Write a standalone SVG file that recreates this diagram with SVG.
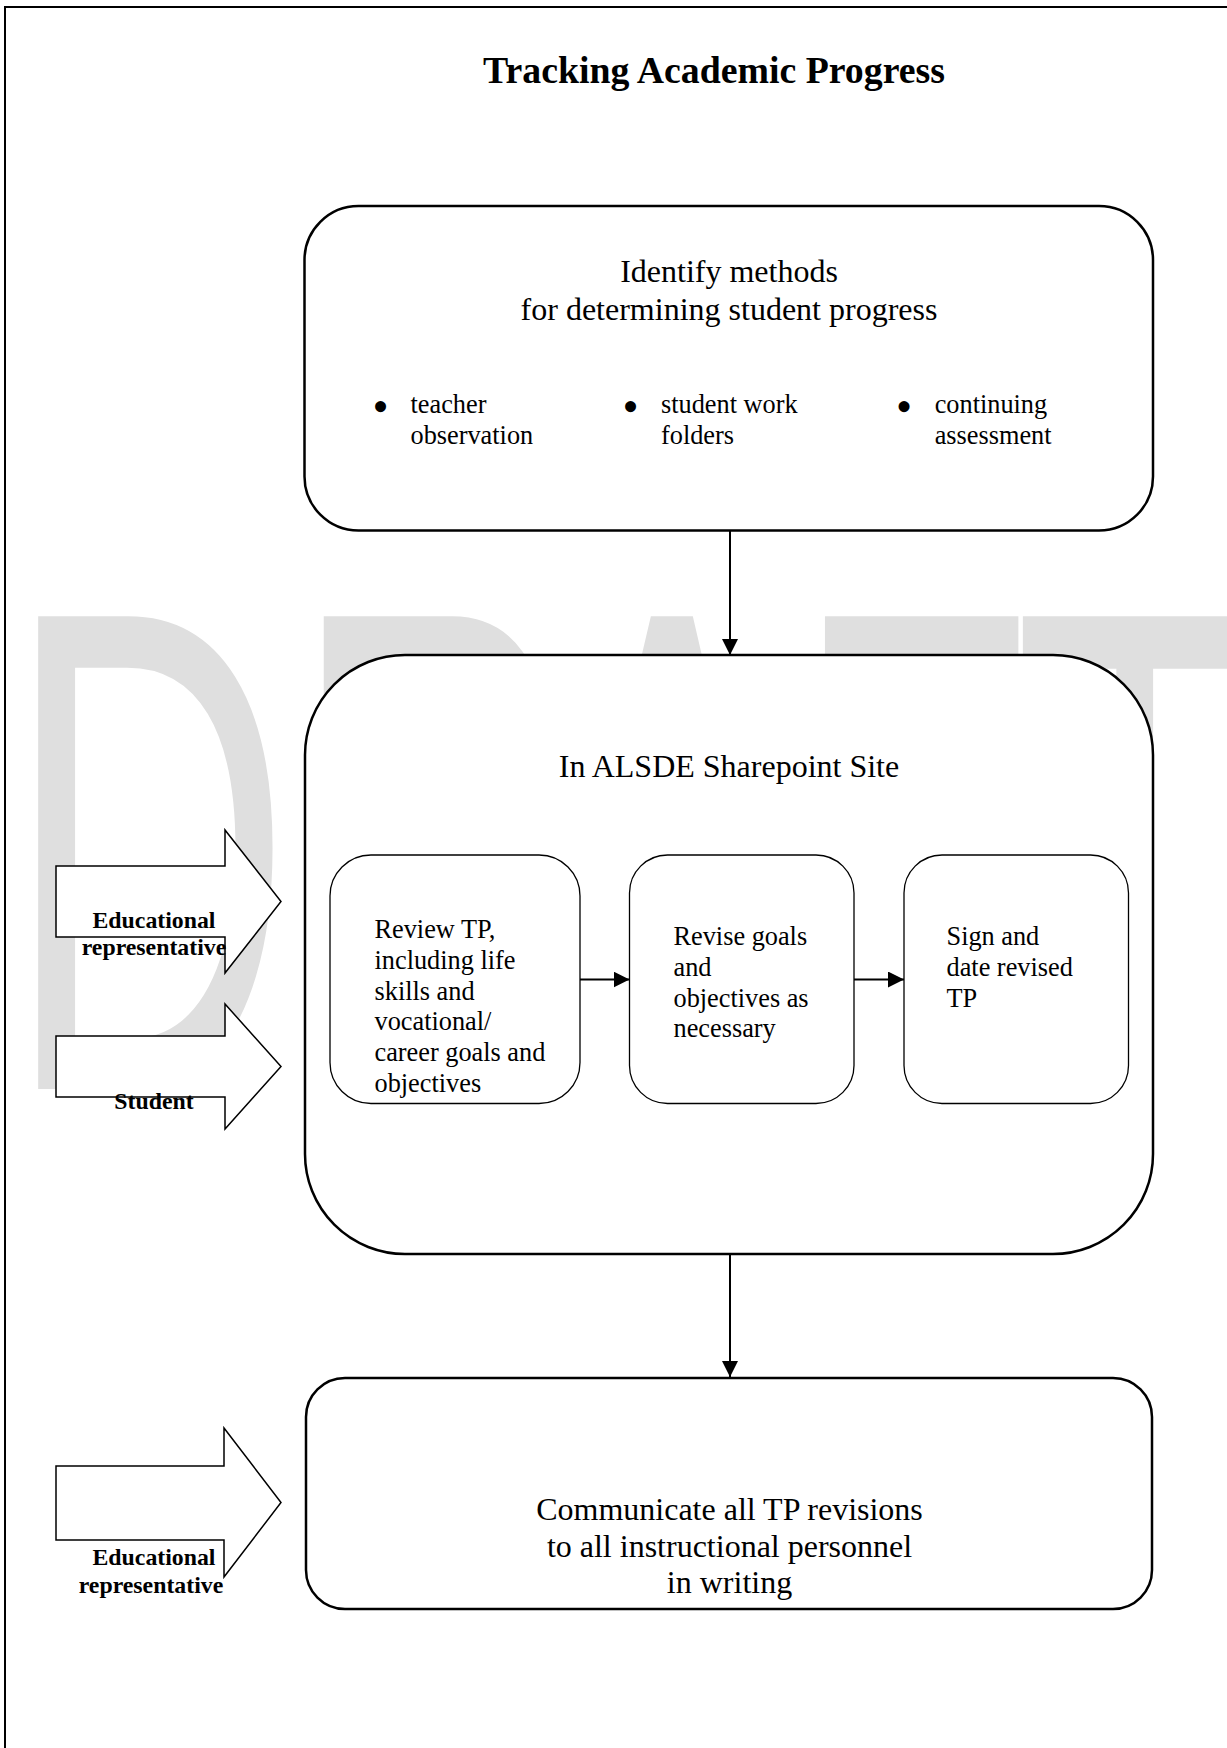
<svg xmlns="http://www.w3.org/2000/svg" width="1227" height="1748" viewBox="0 0 1227 1748">
<defs>
<style>
.t{font-family:"Liberation Serif","Times New Roman",serif;fill:#000}
.title{font-weight:bold;font-size:37.8px;text-anchor:middle}
.h{font-size:32px;text-anchor:middle}
.h2{font-size:32px;text-anchor:middle}
.b{font-size:26.3px}
.bl{font-size:26.3px}
.bul{font-size:46px;text-anchor:middle}
.c3{font-size:32px;text-anchor:middle}
.lbl{font-weight:bold;font-size:23.8px;text-anchor:middle}
.big{fill:#fff;stroke:#000;stroke-width:2.5}
.small{fill:#fff;stroke:#000;stroke-width:1.3}
.blk{fill:#fff;stroke:#000;stroke-width:1.5;stroke-linejoin:miter}
.con{stroke:#000;stroke-width:2;fill:none}
.wm{font-family:"Liberation Sans",Arial,sans-serif;font-size:687px;fill:#dfdfdf}
</style>
<marker id="ah" markerUnits="userSpaceOnUse" markerWidth="16" markerHeight="16" refX="16" refY="8" orient="auto">
<path d="M0,0 L16,8 L0,16 Z" fill="#000"/>
</marker>
</defs>
<rect x="0" y="0" width="1227" height="1748" fill="#fff"/>
<g id="watermark">
<text class="wm" x="9.9 505.7 935.8 1375.9 1760.4" y="1089" transform="scale(0.576,1)">DRAFT</text>
</g>
<rect id="page-border" x="5" y="7" width="1300" height="1800" fill="none" stroke="#000" stroke-width="2"/>
<text class="t title" x="714" y="83">Tracking Academic Progress</text>

<g id="node-identify">
<rect class="big" x="304.5" y="206" width="848.5" height="324.5" rx="54" ry="54"/>
<text class="t h" x="729" y="282">Identify methods</text>
<text class="t h" x="729" y="319.5">for determining student progress</text>
<text class="t bul" x="380.5" y="422">•</text>
<text class="t bl" x="410.5" y="413">teacher</text>
<text class="t bl" x="410.5" y="444">observation</text>
<text class="t bul" x="630.5" y="422">•</text>
<text class="t bl" x="661" y="413">student work</text>
<text class="t bl" x="661" y="444">folders</text>
<text class="t bul" x="904" y="422">•</text>
<text class="t bl" x="934.7" y="413">continuing</text>
<text class="t bl" x="934.7" y="444">assessment</text>
</g>

<g id="node-sharepoint">
<rect class="big" x="305" y="655" width="848" height="599" rx="100" ry="100"/>
<text class="t h2" x="729" y="777">In ALSDE Sharepoint Site</text>
</g>

<g id="node-review">
<rect class="small" x="330" y="855" width="250" height="248.5" rx="41" ry="41"/>
<text class="t b" x="374.5" y="938">Review TP,</text>
<text class="t b" x="374.5" y="968.8">including life</text>
<text class="t b" x="374.5" y="999.6">skills and</text>
<text class="t b" x="374.5" y="1030.4">vocational/</text>
<text class="t b" x="374.5" y="1061.2">career goals and</text>
<text class="t b" x="374.5" y="1092">objectives</text>
</g>

<g id="node-revise">
<rect class="small" x="629.5" y="855" width="224.5" height="248.5" rx="38" ry="38"/>
<text class="t b" x="673.5" y="945">Revise goals</text>
<text class="t b" x="673.5" y="975.8">and</text>
<text class="t b" x="673.5" y="1006.6">objectives as</text>
<text class="t b" x="673.5" y="1037.4">necessary</text>
</g>

<g id="node-sign">
<rect class="small" x="904" y="855" width="224.5" height="248.5" rx="38" ry="38"/>
<text class="t b" x="946.5" y="945">Sign and</text>
<text class="t b" x="946.5" y="975.8">date revised</text>
<text class="t b" x="946.5" y="1006.6">TP</text>
</g>

<g id="node-communicate">
<rect class="big" x="306" y="1378" width="846" height="231" rx="39" ry="39"/>
<text class="t c3" x="729.5" y="1520">Communicate all TP revisions</text>
<text class="t c3" x="729.5" y="1557">to all instructional personnel</text>
<text class="t c3" x="729.5" y="1593">in writing</text>
</g>

<g id="input-edrep-1">
<path class="blk" d="M56,866 H225 V830 L281,901.5 L225,973 V937 H56 Z"/>
<text class="t lbl" x="154" y="928">Educational</text>
<text class="t lbl" x="154" y="955">representative</text>
</g>

<g id="input-student">
<path class="blk" d="M56,1036 H225 V1004 L281,1066.5 L225,1129 V1097 H56 Z"/>
<text class="t lbl" x="154" y="1109">Student</text>
</g>

<g id="input-edrep-2">
<path class="blk" d="M56,1466 H224 V1428 L281,1502.5 L224,1577 V1540 H56 Z"/>
<text class="t lbl" x="154" y="1565">Educational</text>
<text class="t lbl" x="151" y="1593">representative</text>
</g>

<g id="connectors">
<line class="con" x1="730" y1="531" x2="730" y2="655" marker-end="url(#ah)"/>
<line class="con" x1="730" y1="1254" x2="730" y2="1377" marker-end="url(#ah)"/>
<line class="con" x1="580" y1="979.5" x2="629.5" y2="979.5" marker-end="url(#ah)"/>
<line class="con" x1="854" y1="979.5" x2="904" y2="979.5" marker-end="url(#ah)"/>
</g>
</svg>
